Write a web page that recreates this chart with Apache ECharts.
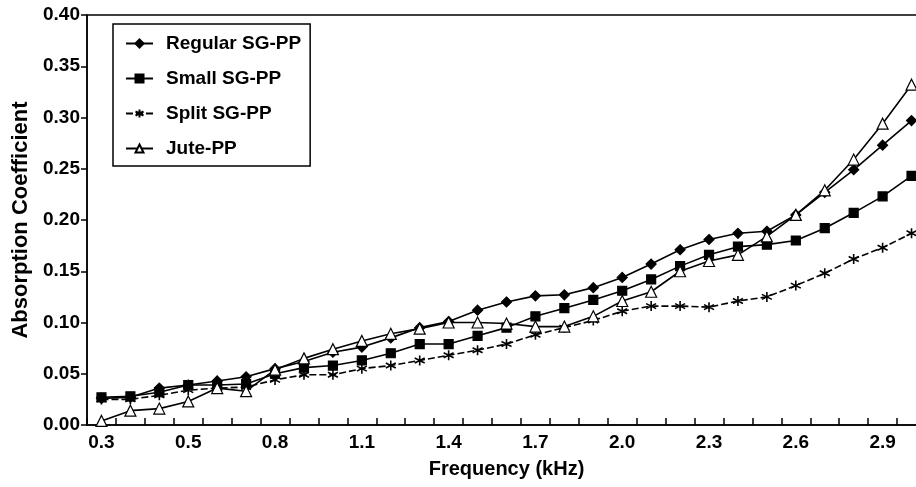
<!DOCTYPE html>
<html>
<head>
<meta charset="utf-8">
<script src="https://cdn.jsdelivr.net/npm/echarts@6/dist/echarts.min.js"></script>
<style>
  html, body { margin: 0; padding: 0; background: #fff; overflow: hidden; }
  /* plot runs past the right edge of the window, as in the cropped original */
  #chart { width: 926px; height: 487px; }
</style>
</head>
<body>
<div id="chart"></div>
<script>
// frequencies of the measured points (kHz), one per category
const freqKHz = [0.25, 0.35, 0.45, 0.54, 0.64, 0.74, 0.83, 0.93, 1.02, 1.12,
  1.22, 1.31, 1.41, 1.51, 1.60, 1.70, 1.79, 1.89, 1.99, 2.08,
  2.18, 2.28, 2.37, 2.47, 2.56, 2.66, 2.76, 2.85, 2.95];
// labels shown on every third category
const tickLabels = ['0.3', '0.5', '0.8', '1.1', '1.4', '1.7', '2.0', '2.3', '2.6', '2.9'];

const regularSG = [0.026, 0.027, 0.036, 0.039, 0.043, 0.047, 0.055, 0.062, 0.071, 0.076,
  0.085, 0.095, 0.101, 0.112, 0.120, 0.126, 0.127, 0.134, 0.144, 0.157,
  0.171, 0.181, 0.187, 0.189, 0.205, 0.227, 0.249, 0.273, 0.297];
const smallSG = [0.027, 0.028, 0.032, 0.039, 0.039, 0.040, 0.050, 0.056, 0.058, 0.063,
  0.070, 0.079, 0.079, 0.087, 0.095, 0.106, 0.114, 0.122, 0.131, 0.142,
  0.155, 0.166, 0.174, 0.176, 0.180, 0.192, 0.207, 0.223, 0.243];
const splitSG = [0.025, 0.025, 0.029, 0.034, 0.036, 0.037, 0.044, 0.049, 0.049, 0.055,
  0.058, 0.063, 0.068, 0.073, 0.079, 0.088, 0.095, 0.102, 0.111, 0.116,
  0.116, 0.115, 0.121, 0.125, 0.136, 0.148, 0.162, 0.173, 0.187];
const jutePP = [0.004, 0.014, 0.016, 0.023, 0.036, 0.033, 0.054, 0.065, 0.074, 0.082,
  0.089, 0.094, 0.100, 0.100, 0.099, 0.096, 0.096, 0.106, 0.121, 0.130,
  0.150, 0.160, 0.166, 0.184, 0.205, 0.229, 0.259, 0.294, 0.332];

const FONT = "'Liberation Sans', Arial, sans-serif";
const asterisk = 'path://M5,0 L5,10 M0.7,2.5 L9.3,7.5 M9.3,2.5 L0.7,7.5';

function lineSeries(name, data, symbol, size, fill, dashed) {
  return {
    name: name,
    type: 'line',
    data: data,
    symbol: symbol,
    symbolSize: size,
    showAllSymbol: true,
    lineStyle: { color: '#000', width: 1.6, type: dashed ? [7, 3] : 'solid' },
    itemStyle: { color: fill, borderColor: '#000', borderWidth: dashed ? 1.6 : 1.2 },
    emphasis: { disabled: true },
    z: 3,
  };
}

const chart = echarts.init(document.getElementById('chart'));
const option = {
  animation: false,
  grid: {
    left: 87,
    top: 15,
    bottom: 62,
    right: 0,
    show: true,
    borderColor: '#000',
    borderWidth: 1.5,
  },
  legend: {
    orient: 'vertical',
    left: 113,
    top: 24,
    itemWidth: 27,
    itemHeight: 10,
    itemGap: 16,
    padding: [10, 9, 8, 12],
    borderColor: '#000',
    borderWidth: 1.5,
    backgroundColor: '#fff',
    textStyle: { fontFamily: FONT, fontWeight: 'bold', fontSize: 19, color: '#000', padding: [0, 0, 0, 8] },
    data: ['Regular SG-PP', 'Small SG-PP', 'Split SG-PP', 'Jute-PP'],
  },
  xAxis: {
    type: 'category',
    data: freqKHz,
    boundaryGap: true,
    name: 'Frequency (kHz)',
    nameLocation: 'middle',
    nameGap: 34,
    nameTextStyle: { fontFamily: FONT, fontWeight: 'bold', fontSize: 20, color: '#000' },
    axisLine: { lineStyle: { color: '#000', width: 1.5 } },
    axisTick: { show: true, inside: true, length: 7, interval: 0, lineStyle: { color: '#000', width: 1.5 } },
    axisLabel: {
      interval: 2,
      margin: 8,
      fontFamily: FONT,
      fontWeight: 'bold',
      fontSize: 19,
      color: '#000',
      formatter: (v, i) => tickLabels[i / 3],
    },
    splitLine: { show: false },
  },
  yAxis: {
    type: 'value',
    min: 0,
    max: 0.4,
    interval: 0.05,
    name: 'Absorption Coefficient',
    nameLocation: 'middle',
    nameGap: 50,
    nameTextStyle: { fontFamily: FONT, fontWeight: 'bold', fontSize: 22, color: '#000' },
    axisLine: { show: true, lineStyle: { color: '#000', width: 1.5 } },
    axisTick: { show: true, length: 6, lineStyle: { color: '#000', width: 1.5 } },
    axisLabel: {
      margin: 7,
      fontFamily: FONT,
      fontWeight: 'bold',
      fontSize: 19,
      color: '#000',
      formatter: (v) => v.toFixed(2),
    },
    splitLine: { show: false },
  },
  series: [
    lineSeries('Regular SG-PP', regularSG, 'diamond', 10, '#000', false),
    lineSeries('Small SG-PP', smallSG, 'rect', 9, '#000', false),
    lineSeries('Split SG-PP', splitSG, asterisk, 10, '#000', true),
    lineSeries('Jute-PP', jutePP, 'triangle', 11, '#fff', false),
  ],
};
chart.setOption(option);
</script>
</body>
</html>
